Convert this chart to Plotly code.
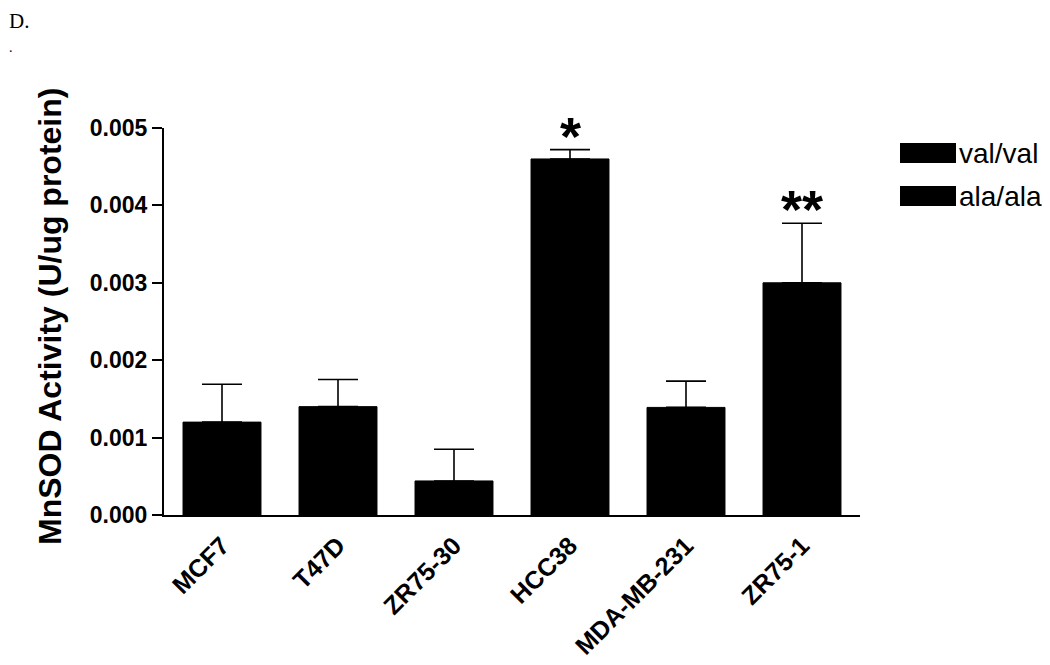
import plotly.graph_objects as go

categories = ["MCF7", "T47D", "ZR75-30", "HCC38", "MDA-MB-231", "ZR75-1"]
activity = [0.00120, 0.00140, 0.00044, 0.00460, 0.00139, 0.00300]
sem = [0.00049, 0.00035, 0.00041, 0.00012, 0.00034, 0.00077]
significance = ["", "", "", "*", "", "**"]
legend_labels = ["val/val", "ala/ala"]
y_ticks = [0.000, 0.001, 0.002, 0.003, 0.004, 0.005]

OFF = 8  # page body margin
W, H = 1050 - OFF, 665 - OFF
L, T = 164 - OFF, 128 - OFF
R = W - (860 - OFF)
B = H - (515 - OFF)
pw, ph = W - L - R, H - T - B


def px(sx):
    return (sx - OFF - L) / pw


def py(sy):
    return (H - B - (sy - OFF)) / ph


fig = go.Figure()
fig.add_trace(go.Bar(
    x=categories, y=activity,
    marker=dict(color="black", line=dict(color="black", width=1)),
    width=0.672,
    error_y=dict(type="data", array=sem, arrayminus=[0] * len(sem), symmetric=False,
                 color="black", thickness=1.6, width=20),
    showlegend=False,
))

annotations = []
for c, v, e, s in zip(categories, activity, sem, significance):
    if s:
        annotations.append(dict(x=c, y=v + e, xref="x", yref="y", text="<b>" + s + "</b>",
                                showarrow=False, yanchor="bottom", yshift=-18,
                                font=dict(family="Liberation Sans, Arial", size=54, color="black")))

annotations.append(dict(x=px(50), y=py(317), xref="paper", yref="paper",
                        text="<b>MnSOD Activity (U/ug protein)</b>", textangle=-90,
                        showarrow=False, xanchor="center", yanchor="middle",
                        font=dict(family="Liberation Sans, Arial", size=32, color="black")))

# panel label
annotations.append(dict(x=px(8), y=py(8), xref="paper", yref="paper", text="D.",
                        showarrow=False, xanchor="left", yanchor="top", borderpad=0,
                        font=dict(family="Liberation Serif, Times New Roman", size=21, color="black")))
annotations.append(dict(x=px(8), y=py(39), xref="paper", yref="paper", text=".",
                        showarrow=False, xanchor="left", yanchor="top", borderpad=0,
                        font=dict(family="Liberation Serif, Times New Roman", size=14, color="black")))

shapes = []
legend_rows = [153, 196]
for lab, cy in zip(legend_labels, legend_rows):
    shapes.append(dict(type="rect", xref="paper", yref="paper",
                       x0=px(900), x1=px(956), y0=py(cy + 10), y1=py(cy - 10),
                       fillcolor="black", line=dict(width=0)))
    annotations.append(dict(x=px(957), y=py(cy), xref="paper", yref="paper",
                            text=lab, showarrow=False, xanchor="left", yanchor="middle",
                            font=dict(family="Liberation Sans, Arial", size=28, color="black")))

fig.update_layout(
    width=W, height=H,
    margin=dict(l=L, r=R, t=T, b=B, autoexpand=False),
    plot_bgcolor="white", paper_bgcolor="white",
    annotations=annotations, shapes=shapes,
    bargap=0.328,
    xaxis=dict(range=[-0.5, 5.5], showline=True, linecolor="black", linewidth=2,
               ticks="", tickangle=-45, showgrid=False, zeroline=False,
               ticklabelstandoff=4,
               tickfont=dict(family="Liberation Sans, Arial", size=25, color="black", weight="bold")),
    yaxis=dict(range=[0, 0.005], showline=True, linecolor="black", linewidth=2,
               tickvals=y_ticks, ticktext=[f"{v:.3f}" for v in y_ticks],
               ticks="outside", ticklen=10, tickwidth=2, tickcolor="black",
               showgrid=False, zeroline=False,
               tickfont=dict(family="Liberation Sans, Arial", size=23, color="black", weight="bold")),
)

fig.write_html("out.html")
